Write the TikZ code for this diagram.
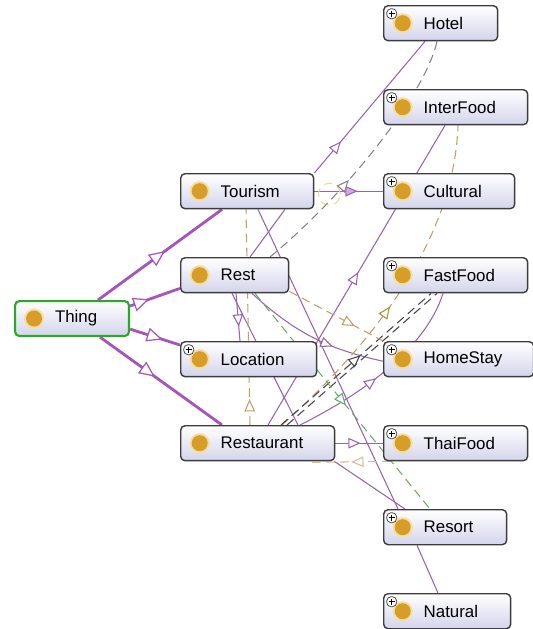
\documentclass[tikz,border=0pt]{standalone}
\usepackage{fontspec}
\setmainfont{Liberation Sans}
\usetikzlibrary{calc,arrows.meta,decorations.markings}
\definecolor{boxline}{RGB}{60,60,60}
\definecolor{boxlav}{RGB}{212,212,236}
\definecolor{ballc}{RGB}{214,158,40}
\definecolor{ballhalo}{RGB}{245,222,160}
\definecolor{thinggreen}{RGB}{40,170,40}
\definecolor{isa}{RGB}{165,85,185}
\definecolor{rel}{RGB}{150,100,175}
\definecolor{lilac}{RGB}{215,170,230}
\definecolor{tan}{RGB}{190,160,105}
\definecolor{olive}{RGB}{160,150,60}
\definecolor{grn}{RGB}{100,175,100}
\definecolor{darkd}{RGB}{70,70,80}
\definecolor{greyd}{RGB}{130,130,135}
\definecolor{loopy}{RGB}{235,225,130}
\pgfdeclarelayer{edges}
\pgfsetlayers{edges,main}
\newcommand\ballpic{\fill[ballhalo] ($(path picture bounding box.west)+(19,0)$) circle (0.2cm);
  \fill[ballc] ($(path picture bounding box.west)+(19,0)$) circle (0.16cm);}
\newcommand\pluspic{\draw[boxline,fill=white,line width=0.4pt] ($(path picture bounding box.north west)+(3,3)$) rectangle +(10,10);
  \draw[black,line width=0.6pt] ($(path picture bounding box.north west)+(5,8)$) -- +(6,0) ($(path picture bounding box.north west)+(8,5)$) -- +(0,6);}

\begin{document}
\begin{tikzpicture}[x=0.02cm,y=-0.02cm,
  cls/.style={draw=boxline,line width=0.8pt,rounded corners=2.5pt,top color=white,bottom color=boxlav,
    anchor=north west,minimum height=0.7cm,inner xsep=0pt,inner ysep=0pt,text width=#1,align=left,
    font=\fontsize{9.6}{11}\selectfont,path picture={\ballpic}},
  expd/.style={path picture={\ballpic\pluspic}},
  sub/.style={isa,line width=1.6pt},
  rl/.style={rel,line width=0.6pt},
  tri/.style={postaction={decorate,decoration={markings,mark=at position #1 with {\arrow{Triangle[length=7pt,width=6pt,fill=white,line width=0.6pt]}}}}},
  bigtri/.style={postaction={decorate,decoration={markings,mark=at position #1 with {\arrow{Triangle[length=9pt,width=8pt,fill=white,line width=0.7pt]}}}}},
  filltri/.style={postaction={decorate,decoration={markings,mark=at position #1 with {\arrow{Triangle[length=7pt,width=6pt,fill=lilac,line width=0.6pt]}}}}},
  dsh/.style={line width=0.6pt,dash pattern=on 5pt off 3pt}]
\useasboundingbox (0,0) rectangle (532,629);

\node[cls=2.28cm,draw=thinggreen,line width=1.2pt] (thing) at (14,300) {\hspace*{0.8cm}Thing};
\node[cls=2.66cm] (tour) at (180,173) {\hspace*{0.8cm}Tourism};
\node[cls=2.16cm] (rest) at (180,257) {\hspace*{0.8cm}Rest};
\node[cls=2.72cm,expd] (loc) at (180,341) {\hspace*{0.8cm}Location};
\node[cls=3.08cm] (restr) at (180,425) {\hspace*{0.8cm}Restaurant};
\node[cls=2.28cm,expd] (hotel) at (383,5) {\hspace*{0.8cm}Hotel};
\node[cls=2.88cm,expd] (inter) at (383,89) {\hspace*{0.8cm}InterFood};
\node[cls=2.62cm,expd] (cult) at (383,173) {\hspace*{0.8cm}Cultural};
\node[cls=2.88cm,expd] (fast) at (383,257) {\hspace*{0.8cm}FastFood};
\node[cls=3.00cm,expd] (home) at (383,341) {\hspace*{0.8cm}HomeStay};
\node[cls=2.88cm,expd] (thai) at (383,425) {\hspace*{0.8cm}ThaiFood};
\node[cls=2.46cm,expd] (resort) at (383,509) {\hspace*{0.8cm}Resort};
\node[cls=2.54cm,expd] (natural) at (383,593) {\hspace*{0.8cm}Natural};

\begin{pgfonlayer}{edges}
\draw[sub,bigtri=0.54] ($(thing.north west)+(84,0)$) -- ($(tour.south west)+(42,0)$);
\draw[sub,bigtri=0.38] ($(thing.north east)+(0,6)$) -- ($(rest.south west)+(0,-5)$);
\draw[sub,bigtri=0.65] ($(thing.south east)+(0,-8)$) -- ($(loc.north west)+(0,4)$);
\draw[sub,bigtri=0.45] ($(thing.south west)+(86,0)$) -- ($(restr.north west)+(42,0)$);

\draw[rl,tri=0.24] (tour.north east) -- ($(hotel.south west)+(42,0)$);
\draw[rl,filltri=0.63] (tour.east) -- (cult.west);
\draw[loopy,dsh] ($(tour.east)+(15,3)$) circle (0.22cm);
\draw[rl] ($(tour.south west)+(78,0)$) -- ($(resort.north west)+(15,0)$);
\draw[rl] ($(rest.north west)+(70,0)$) -- ($(tour.south west)+(105,0)$);
\draw[rl,tri=0.7] ($(rest.south west)+(56,0)$) -- ($(loc.north west)+(60,0)$);
\draw[rl] ($(rest.south west)+(52,0)$) -- ($(restr.north west)+(118,0)$);
\draw[rl,tri=0.65] ($(rest.south west)+(72,0)$) to[bend right=15] ($(home.west)+(0,2)$);
\draw[rl,tri=0.51] ($(restr.north west)+(88,0)$) -- ($(inter.south west)+(62,0)$);
\draw[rl,tri=0.45] ($(restr.north west)+(120,0)$) .. controls (360,395) and (425,350) .. ($(fast.south west)+(60,0)$);
\draw[rl,tri=0.53] (restr.east) -- (thai.west);
\draw[rl] ($(restr.south east)+(-1,0)$) -- ($(resort.north west)+(22,0)$);
\draw[rl] ($(resort.south west)+(34,0)$) -- ($(natural.north west)+(55,0)$);

\draw[greyd,dsh,tri=0.4] ($(rest.north west)+(90,0)$) .. controls (345,195) and (425,95) .. ($(hotel.south west)+(54,0)$);
\draw[tan,dsh,postaction={olive,tri=0.45}] ($(restr.north west)+(102,0)$) .. controls (410,310) and (455,210) .. ($(inter.south west)+(75,0)$);
\draw[darkd,dsh,tri=0.53] ($(restr.north west)+(101,0)$) -- ($(fast.south west)+(48,0)$);
\draw[darkd,dsh] ($(restr.north west)+(107,0)$) -- ($(fast.south west)+(54,0)$);
\draw[tan,dsh,tri=0.7] ($(rest.south east)+(0,-2)$) -- (home.north west);
\draw[grn,dsh,tri=0.52] ($(rest.south west)+(75,0)$) -- ($(resort.north west)+(47,0)$);
\draw[tan,dsh,tri=0.12] ($(restr.north west)+(70,0)$) -- ($(tour.south west)+(66,0)$);
\draw[tan!70,dsh,tri=0.5] ($(thai.south west)+(8,0)$) -- ($(restr.south east)+(-24,1)$);
\end{pgfonlayer}
\end{tikzpicture}
\end{document}
